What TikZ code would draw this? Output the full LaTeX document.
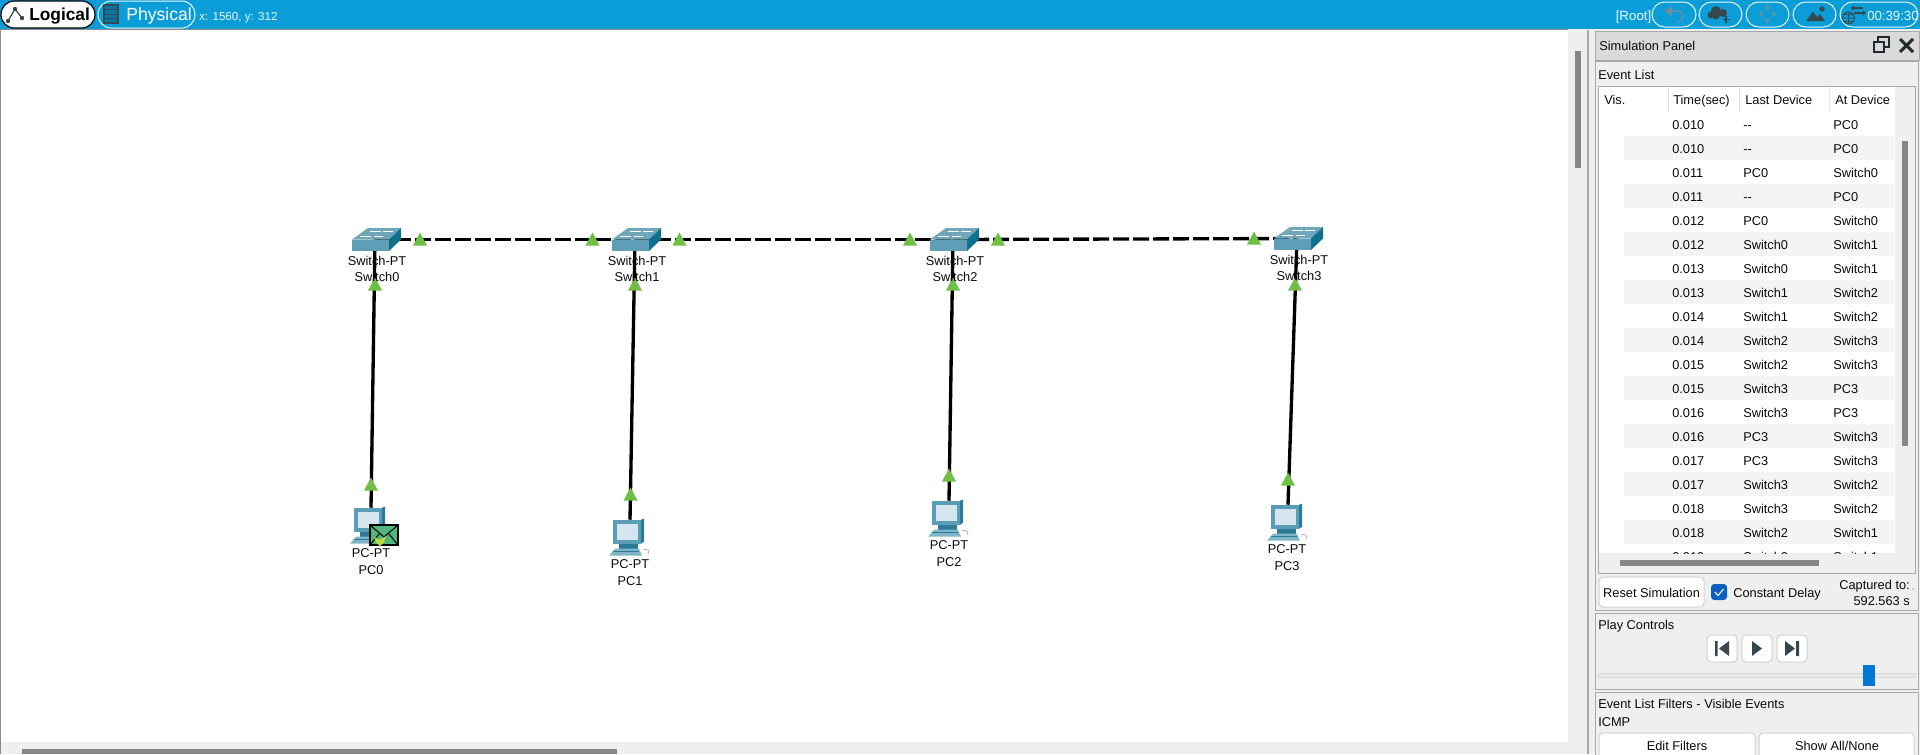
\documentclass[tikz,border=0pt]{standalone}
\usepackage{fontspec}
\setmainfont{Liberation Sans}
\definecolor{barblue}{HTML}{0A9DD8}
\definecolor{panelbg}{HTML}{EFEFEF}
\definecolor{headbg}{HTML}{DADADA}
\definecolor{edgegrey}{HTML}{A8A8A8}
\definecolor{thumbgrey}{HTML}{868686}
\definecolor{stripegrey}{HTML}{F4F4F4}
\definecolor{linkgreen}{HTML}{6FBE45}
\definecolor{swfront}{HTML}{5F9EB6}
\definecolor{swtop}{HTML}{6FA6BA}
\definecolor{swside}{HTML}{0F6F8E}
\definecolor{pcbody}{HTML}{5A9DB6}
\definecolor{pcbase}{HTML}{7FB5C8}
\definecolor{pcdark}{HTML}{2A7A98}
\definecolor{pcscreen}{HTML}{D5E5EE}
\definecolor{mailgreen}{HTML}{52B57C}
\definecolor{heartgreen}{HTML}{C4D840}
\definecolor{inkblack}{HTML}{0A0A0A}
\definecolor{icondark}{HTML}{37474F}
\definecolor{icongrey}{HTML}{6F8F9F}
\definecolor{palewhite}{HTML}{EAF7FC}
\definecolor{sliderblue}{HTML}{0078D7}
\definecolor{checkblue}{HTML}{0B5FBF}
\tikzset{
  x=0.75pt,y=-0.75pt,
  anchorbox/.style={inner sep=0pt,minimum width=38pt,minimum height=18pt},
  pcbox/.style={inner sep=0pt,minimum width=27pt,minimum height=30pt},
  netlink/.style={black,line width=2.5pt},
  trunk/.style={black,line width=2.5pt,dash pattern=on 12pt off 3pt},
  txt/.style={inner sep=0pt,yshift=-1.5pt,font=\fontsize{9.6}{11}\selectfont,text=inkblack},
  ltxt/.style={txt,anchor=mid west},
  rtxt/.style={txt,anchor=mid east},
  ctxt/.style={txt,anchor=mid},
  wtxt/.style={ltxt,text=palewhite},
  pill/.style={draw=palewhite,line width=0.75pt,rounded corners=9.5pt},
  btn/.style={draw=black!18,fill=white,line width=0.75pt,rounded corners=3pt},
  panelbox/.style={draw=edgegrey,fill=panelbg,line width=0.75pt},
  pics/swicon/.style={code={
    \fill[swtop] (-23,0)--(-7,-11.5)--(26,-11.5)--(14,0)--cycle;
    \fill[swfront] (-23,0) rectangle (14,11.5);
    \fill[swside] (14,0)--(26,-11.5)--(26,0)--(14,11.5)--cycle;
    \draw[white,line width=0.6pt] (-5,-8)--(6,-8) (8,-8.5)--(18,-8.5) (-15,-3)--(-4,-3) (-1,-3.5)--(8,-3.5);
  }},
  pics/pcicon/.style={code={
    \fill[pcdark] (11,0)--(14,-1)--(14,22)--(11,24)--cycle;
    \fill[pcbody] (-17,0) rectangle (11,24);
    \fill[pcscreen] (-13,4) rectangle (8,20);
    \fill[pcdark] (-11,24) rectangle (8,29);
    \fill[pcbase] (-21,36)--(-15,29)--(9,29)--(12,36)--cycle;
    \draw[pcdark,line width=0.5pt] (-17,32)--(9,32);
    \draw[black!35,line width=0.5pt] (13,30) .. controls (17,29) and (21,31) .. (18,34);
  }}
}
\begin{document}
\begin{tikzpicture}
\useasboundingbox (0,0) rectangle (1920,754);
\clip (0,0) rectangle (1920,754);
% backgrounds
\fill[panelbg] (0,0) rectangle (1920,754);
\fill[white] (1,30) rectangle (1568,742);
\draw[black!45,line width=0.75pt] (0.5,754) -- (0.5,29.5) -- (1568,29.5);
\fill[barblue] (0,0) rectangle (1920,29);
\draw[edgegrey,line width=1.2pt] (1588,30) -- (1588,754);
\fill[thumbgrey] (1575,51) rectangle (1581,168);
\fill[thumbgrey] (22,749) rectangle (617,754);

% invisible anchors of the network
\node[anchorbox] (sw0) at (375,239.5) {};
\node[anchorbox] (sw1) at (635,239.5) {};
\node[anchorbox] (sw2) at (953,239.5) {};
\node[anchorbox] (sw3) at (1297,238.5) {};
\node[pcbox] (pc0) at (371,528) {};
\node[pcbox] (pc1) at (630,540) {};
\node[pcbox] (pc2) at (949,521) {};
\node[pcbox] (pc3) at (1288,525) {};

% links
\draw[trunk] (sw0.center) -- (sw1.center);
\draw[trunk] (sw1.center) -- (sw2.center);
\draw[trunk] (sw2.center) -- (sw3.center);
\draw[netlink] (sw0.center) -- (pc0.north);
\draw[netlink] (sw1.center) -- (pc1.north);
\draw[netlink] (sw2.center) -- (pc2.north);
\draw[netlink] (sw3.center) -- (pc3.north);

% link state marks
\foreach \mx/\my in {420/239,592.5/239,679.5/239,910/239,998/239,1254/238,375/284,635/284,953/284,1295/284,371/484,630.5/494,949/475,1288/479}
  \fill[linkgreen] (\mx-7,\my+6.5) -- (\mx,\my-6.5) -- (\mx+7,\my+6.5) -- cycle;

% devices
\pic at (sw0.center) {swicon};
\pic at (sw1.center) {swicon};
\pic at (sw2.center) {swicon};
\pic at (sw3.center) {swicon};
\pic at (pc0.north) {pcicon};
\pic at (pc1.north) {pcicon};
\pic at (pc2.north) {pcicon};
\pic at (pc3.north) {pcicon};

% envelope on PC0
\draw[fill=mailgreen,line width=1.1pt] (370,525) rectangle (398,545);
\draw[line width=0.75pt] (370,525) -- (384,537) -- (398,525) (370,545) -- (379,534) (398,545) -- (389,534);
\fill[heartgreen] (374,537) -- (380,540) -- (386,536) -- (384,542) -- (380,546) -- (376,542) -- cycle;

% device labels
\node[ctxt] (ls0a) at (377,260) {Switch-PT};
\node[ctxt] (ls0b) at (377,276) {Switch0};
\node[ctxt] (ls1a) at (637,260) {Switch-PT};
\node[ctxt] (ls1b) at (637,276) {Switch1};
\node[ctxt] (ls2a) at (955,260) {Switch-PT};
\node[ctxt] (ls2b) at (955,276) {Switch2};
\node[ctxt] (ls3a) at (1299,259) {Switch-PT};
\node[ctxt] (ls3b) at (1299,275) {Switch3};
\node[ctxt] (lp0a) at (371,552) {PC-PT};
\node[ctxt] (lp0b) at (371,569) {PC0};
\node[ctxt] (lp1a) at (630,563) {PC-PT};
\node[ctxt] (lp1b) at (630,580) {PC1};
\node[ctxt] (lp2a) at (949,544) {PC-PT};
\node[ctxt] (lp2b) at (949,561) {PC2};
\node[ctxt] (lp3a) at (1287,548) {PC-PT};
\node[ctxt] (lp3b) at (1287,565) {PC3};

% top bar, left
\draw[black,fill=white,line width=0.9pt,rounded corners=10pt] (1,1) rectangle (95,28);
\fill[icondark] (8,21) circle (2.2) (15,9) circle (2.2) (22,18) circle (2.2);
\draw[icondark,line width=0.9pt] (8,21) -- (15,9) -- (22,18);
\node[txt,anchor=mid west,font=\fontsize{13}{15}\selectfont\bfseries,text=black] (logical) at (29,15) {Logical};
\draw[pill,rounded corners=10pt] (98,1) rectangle (195,28);
\draw[icondark,fill=barblue!75!black,line width=0.8pt] (104,5) rectangle (118,23);
\draw[icondark,line width=0.6pt] (104,9.5)--(118,9.5) (104,14)--(118,14) (104,18.5)--(118,18.5);
\node[wtxt,font=\fontsize{13.2}{15}\selectfont,text=white] (physical) at (126,15) {Physical};
\node[wtxt,font=\fontsize{8.7}{11}\selectfont] (xy) at (199,15) {x: 1560, y: 312};

% top bar, right
\node[wtxt,font=\fontsize{10}{11}\selectfont] (root) at (1615.5,15) {[Root]};
\draw[pill] (1652,2) rectangle (1696,27);
\draw[pill] (1699,2) rectangle (1742,27);
\draw[pill] (1746,2) rectangle (1789,27);
\draw[pill] (1793,2) rectangle (1836,27);
\draw[pill] (1840,2) rectangle (1918,27);
% undo
\fill[icongrey] (1664,11) -- (1672,6) -- (1672,16) -- cycle;
\draw[icongrey,line width=1.1pt] (1671,11) -- (1678,11) .. controls (1685,11) and (1685,22) .. (1677,22);
% cloud with plus
\fill[icondark] (1711,15) circle (3.5) (1716,11) circle (5) (1723,13) circle (4) (1716,16) circle (3.5);
\draw[icondark,line width=1.1pt] (1726,16) -- (1726,23) (1722.5,19.5) -- (1729.5,19.5);
% move
\fill[icongrey!75!barblue] (1767.5,4) -- (1771,9) -- (1764,9) -- cycle (1767.5,24) -- (1771,19) -- (1764,19) -- cycle
  (1758,14) -- (1763,10.5) -- (1763,17.5) -- cycle (1777,14) -- (1772,10.5) -- (1772,17.5) -- cycle;
% picture
\fill[icondark] (1806,21) -- (1813,12) -- (1817,17) -- (1820,14) -- (1825,21) -- cycle (1822,9) circle (2.7);
% globe
\draw[icondark,line width=0.7pt] (1848.5,18) circle (6) (1842.5,18) -- (1854.5,18) (1848.5,12) -- (1848.5,24) (1843.5,14.5) -- (1853.5,14.5) (1843.5,21.5) -- (1853.5,21.5);
\draw[icondark,line width=1pt] (1854,8) -- (1863,8) (1854,13) -- (1863,13);
\fill[icondark] (1854,5.5) -- (1850.5,8) -- (1854,10.5) -- cycle (1863,10.5) -- (1866,13) -- (1863,15.5) -- cycle;
\node[wtxt,font=\fontsize{9.9}{11}\selectfont] (clock) at (1867,15) {00:39:30};

% simulation panel header
\draw[edgegrey,fill=headbg,line width=0.75pt] (1595,31) rectangle (1919,60);
\node[ltxt] (simtitle) at (1599,45) {Simulation Panel};
\draw[icondark!60!black,line width=1.4pt] (1878,37) rectangle (1889,47);
\draw[icondark!60!black,fill=headbg,line width=1.4pt] (1874,42) rectangle (1884,52);
\draw[icondark!60!black,line width=2.2pt] (1900,39) -- (1913,52) (1913,39) -- (1900,52);

% event list
\draw[panelbox] (1595,61) rectangle (1918,610);
\node[ltxt] (evlist) at (1598,74) {Event List};
\draw[edgegrey,fill=panelbg,line width=0.75pt] (1598,86) rectangle (1915,573);
\fill[white] (1599,87) rectangle (1895,553);
\foreach \i in {1,3,...,17}
  \fill[stripegrey] (1624,{112+24*\i}) rectangle (1894,{136+24*\i});
\draw[black!10,line width=0.75pt] (1668,87) -- (1668,112) (1739,87) -- (1739,112) (1829,87) -- (1829,112);
\node[ltxt] (hv) at (1604,99) {Vis.};
\node[ltxt] (ht) at (1673,99) {Time(sec)};
\node[ltxt] (hl) at (1745,99) {Last Device};
\node[ltxt] (ha) at (1835,99) {At Device};
\begin{scope}
\clip (1599,112) rectangle (1895,553);
\foreach \i/\vt/\vl/\va in {0/0.010/-{}-/PC0,1/0.010/-{}-/PC0,2/0.011/PC0/Switch0,3/0.011/-{}-/PC0,4/0.012/PC0/Switch0,5/0.012/Switch0/Switch1,6/0.013/Switch0/Switch1,7/0.013/Switch1/Switch2,8/0.014/Switch1/Switch2,9/0.014/Switch2/Switch3,10/0.015/Switch2/Switch3,11/0.015/Switch3/PC3,12/0.016/Switch3/PC3,13/0.016/PC3/Switch3,14/0.017/PC3/Switch3,15/0.017/Switch3/Switch2,16/0.018/Switch3/Switch2,17/0.018/Switch2/Switch1,18/0.019/Switch2/Switch1}{
  \node[ltxt] (t\i) at (1672,{124+24*\i}) {\vt};
  \node[ltxt] (l\i) at (1743,{124+24*\i}) {\vl};
  \node[ltxt] (a\i) at (1833,{124+24*\i}) {\va};
}
\end{scope}
\fill[thumbgrey] (1902,141) rectangle (1908,446);
\fill[thumbgrey] (1620,560) rectangle (1819,566);

\draw[btn] (1599,577) rectangle (1704,607);
\node[ctxt] (reset) at (1651.5,592) {Reset Simulation};
\fill[checkblue,rounded corners=2.5pt] (1711,584) rectangle (1727,600);
\draw[white,line width=0.8pt] (1715,592) -- (1718,595.5) -- (1723.5,589);
\node[ltxt] (delay) at (1733,592) {Constant Delay};
\node[rtxt] (capt) at (1910,584) {Captured to:};
\node[rtxt] (captv) at (1910,600) {592.563 s};
\fill[black!30] (1913,589) circle (1);

% play controls
\draw[panelbox] (1595,613) rectangle (1918,689);
\node[ltxt] (play) at (1598,624) {Play Controls};
\draw[btn] (1707,635) rectangle (1737,662);
\draw[btn] (1742,635) rectangle (1772,662);
\draw[btn] (1777,635) rectangle (1807,662);
\fill[icondark] (1715,641) rectangle (1717.5,656) (1729,641) -- (1729,656) -- (1719,648.5) -- cycle;
\fill[icondark] (1752,641) -- (1752,656) -- (1762,648.5) -- cycle;
\fill[icondark] (1796,641) rectangle (1799,656) (1785,641) -- (1785,656) -- (1795,648.5) -- cycle;
\draw[black!15,fill=black!9,line width=0.75pt] (1598,673) rectangle (1915,677);
\fill[sliderblue] (1863,665) rectangle (1875,686);

% filters
\draw[panelbox] (1595,692) rectangle (1918,770);
\node[ltxt] (filt) at (1598,703) {Event List Filters - Visible Events};
\node[ltxt] (icmp) at (1598,721) {ICMP};
\draw[btn] (1599,733) rectangle (1755,770);
\draw[btn] (1759,733) rectangle (1914,770);
\node[ctxt] (editf) at (1677,745) {Edit Filters};
\node[ctxt] (showall) at (1837,745) {Show All/None};
\end{tikzpicture}
\end{document}
